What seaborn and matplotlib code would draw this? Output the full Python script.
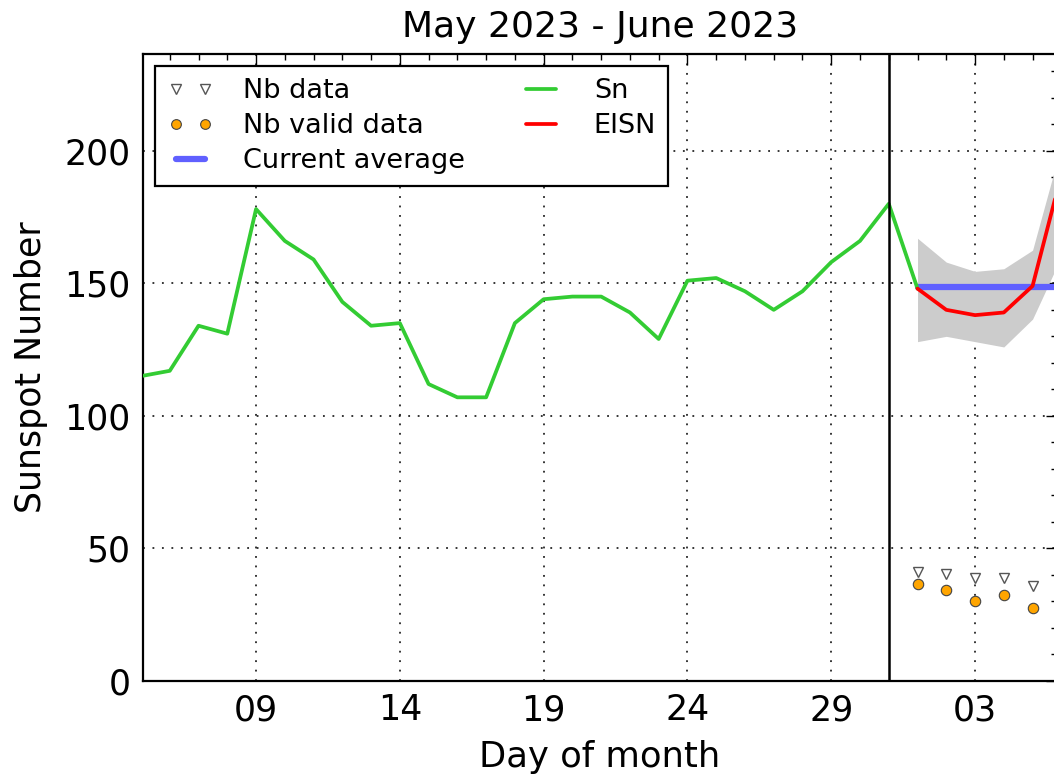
import numpy as np
import pandas as pd
import matplotlib
matplotlib.use("Agg")
import matplotlib.pyplot as plt
import matplotlib.dates as mdates
import seaborn as sns

# Daily sunspot number Sn (May 5 - June 1, 2023)
sn_dates = pd.date_range("2023-05-05", "2023-06-01", freq="D")
sn_values = [115, 117, 134, 131, 178, 166, 159, 143, 134, 135, 112, 107, 107, 135,
             144, 145, 145, 139, 129, 151, 152, 147, 140, 147, 158, 166, 180, 148]

# Estimated international sunspot number (EISN) for the current month
eisn_dates = pd.date_range("2023-06-01", "2023-06-06", freq="D")
eisn_values = [148, 140, 138, 139, 149, 191]
eisn_upper = [167, 158, 154.5, 155.5, 162.5, 202]
eisn_lower = [128, 130, 128, 126, 136.5, 160]

# Number of stations: all data and valid data
nb_dates = pd.date_range("2023-06-01", "2023-06-05", freq="D")
nb_data = [41, 40.5, 39, 39, 36]
nb_valid = [36.7, 34.2, 30, 32.6, 27.6]

current_average = 148.5
month_start = pd.Timestamp("2023-05-31")
tick_dates = pd.to_datetime(["2023-05-09", "2023-05-14", "2023-05-19",
                             "2023-05-24", "2023-05-29", "2023-06-03"])

sns.set_style("white")
plt.rcParams["font.family"] = ["DejaVu Sans"]
plt.rcParams.update({"text.color": "black", "axes.labelcolor": "black",
                     "xtick.color": "black", "ytick.color": "black"})

fig = plt.figure(figsize=(10.54, 7.75), dpi=100)
ax = fig.add_axes([143 / 1054, 94 / 775, 914 / 1054, 627 / 775])

df_sn = pd.DataFrame({"date": sn_dates, "value": sn_values})
df_eisn = pd.DataFrame({"date": eisn_dates, "value": eisn_values})

ax.fill_between(eisn_dates, eisn_lower, eisn_upper, color="#cccccc", lw=0, zorder=1)
ax.plot([eisn_dates[0], eisn_dates[-1] + pd.Timedelta(days=1)],
        [current_average, current_average], color="#6060ff", lw=4.5, zorder=2,
        label="Current average")
sns.lineplot(data=df_sn, x="date", y="value", ax=ax, color="#33cc33", lw=2.7,
             zorder=3, label="Sn")
sns.lineplot(data=df_eisn, x="date", y="value", ax=ax, color="#ff0000", lw=2.7,
             zorder=4, label="EISN")
ax.plot(nb_dates, nb_data, ls="none", marker="v", ms=6.5, mfc="white",
        mec="#555555", mew=1.0, zorder=5, label="Nb data")
ax.plot(nb_dates, nb_valid, ls="none", marker="o", ms=7.5, mfc="#ffa500",
        mec="#444444", mew=0.8, zorder=5, label="Nb valid data")

ax.axvline(month_start, color="black", lw=1.8, zorder=6)

x0 = pd.Timestamp("2023-05-05 01:40")
ax.set_xlim(x0, x0 + pd.Timedelta(days=914 / 28.76))
ax.set_ylim(0, 236.5)

ax.set_xticks(tick_dates)
ax.xaxis.set_major_formatter(mdates.DateFormatter("%d"))
ax.xaxis.set_minor_locator(mdates.DayLocator())
ax.set_yticks([0, 50, 100, 150, 200])
ax.yaxis.set_minor_locator(matplotlib.ticker.MultipleLocator(10))

ax.grid(True, which="major", color="black", ls=(0, (1.2, 5)), lw=1.1)
ax.tick_params(which="both", direction="in", top=True, right=True,
               labelsize=25, width=1.0, color="black")
ax.tick_params(which="major", length=8, pad=9)
ax.tick_params(which="minor", length=4)
for sp in ax.spines.values():
    sp.set_color("black")
    sp.set_linewidth(1.6)

ax.set_xlabel("Day of month", fontsize=25.5, labelpad=9)
ax.set_ylabel("Sunspot Number", fontsize=25, labelpad=12)
ax.set_title("May 2023 - June 2023", fontsize=26, pad=12)

handles, labels = ax.get_legend_handles_labels()
order = ["Nb data", "Nb valid data", "Current average", "Sn", "EISN"]
hmap = dict(zip(labels, handles))
leg = ax.legend([hmap[k] for k in order], order, loc="upper left", ncol=2,
                fontsize=19.5, numpoints=2, handlelength=1.7, handletextpad=1.1,
                columnspacing=1.95, borderaxespad=0.45, fancybox=False,
                framealpha=1, edgecolor="black", labelspacing=0.33,
                borderpad=0.45)
leg.get_frame().set_linewidth(1.6)
for h in leg.legend_handles:
    if h.get_marker() not in (None, "None", ""):
        h.set_markersize(7)

fig.savefig("out.png", dpi=100)
